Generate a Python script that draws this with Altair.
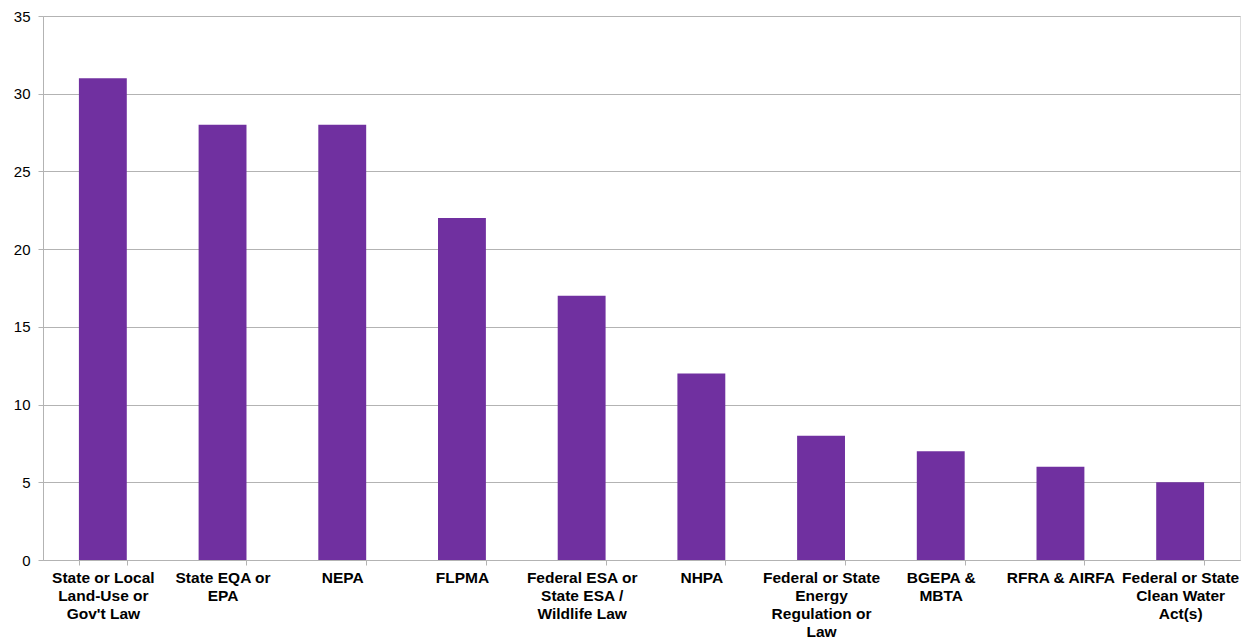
import altair as alt
import pandas as pd

categories = [
    "State or Local Land-Use or Gov't Law",
    "State EQA or EPA",
    "NEPA",
    "FLPMA",
    "Federal ESA or State ESA / Wildlife Law",
    "NHPA",
    "Federal or State Energy Regulation or Law",
    "BGEPA & MBTA",
    "RFRA & AIRFA",
    "Federal or State Clean Water Act(s)",
]
label_lines = [
    ["State or Local", "Land-Use or", "Gov't Law"],
    ["State EQA or", "EPA"],
    ["NEPA"],
    ["FLPMA"],
    ["Federal ESA or", "State ESA /", "Wildlife Law"],
    ["NHPA"],
    ["Federal or State", "Energy", "Regulation or", "Law"],
    ["BGEPA &", "MBTA"],
    ["RFRA & AIRFA"],
    ["Federal or State", "Clean Water", "Act(s)"],
]
values = [31, 28, 28, 22, 17, 12, 8, 7, 6, 5]

df = pd.DataFrame({"category": categories, "value": values})

def js_str(s):
    return "'" + s.replace("\\", "\\\\").replace("'", "\\'") + "'"

expr = "datum.label"
for cat, lines in reversed(list(zip(categories, label_lines))):
    arr = "[" + ",".join(js_str(l) for l in lines) + "]"
    expr = f"datum.label == {js_str(cat)} ? {arr} : ({expr})"

chart = alt.Chart(df).mark_bar(color="#7030A0").encode(
    x=alt.X(
        "category:N",
        sort=categories,
        title=None,
        scale=alt.Scale(paddingInner=0.6, paddingOuter=0.3),
        axis=alt.Axis(
            labelExpr=expr,
            labelAngle=0,
            labelFont="Liberation Sans",
            labelFontSize=15.5,
            labelFontWeight="bold",
            labelColor="#000000",
            labelLineHeight=18,
            labelLimit=0,
            labelPadding=5,
            labelBaseline="top",
            tickBand="extent",
            tickColor="#b3b3b3",
            tickSize=5,
            domainColor="#b3b3b3",
            grid=False,
        ),
    ),
    y=alt.Y(
        "value:Q",
        title=None,
        scale=alt.Scale(domain=[0, 35]),
        axis=alt.Axis(
            values=[0, 5, 10, 15, 20, 25, 30, 35],
            labelFont="Liberation Sans",
            labelFontSize=15,
            labelColor="#000000",
            labelPadding=8,
            tickColor="#b3b3b3",
            tickSize=5,
            domainColor="#b3b3b3",
            gridColor="#b3b3b3",
            gridWidth=1,
        ),
    ),
).properties(
    width=1197,
    height=544,
    autosize=alt.AutoSizeParams(type="none"),
    padding={"left": 43, "top": 16, "right": 1, "bottom": 79},
).configure_view(stroke=None).configure(background="white")

chart.save("out.html", embed_options={"renderer": "svg", "actions": False})
